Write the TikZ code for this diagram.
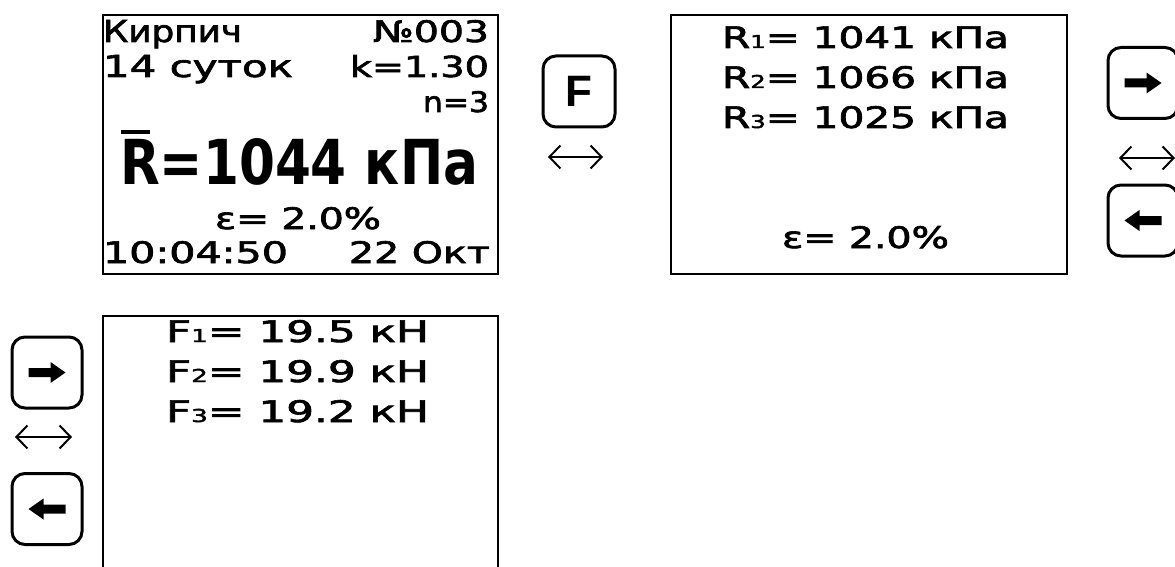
\documentclass[tikz,border=0pt]{standalone}
\usepackage{fontspec}
\usepackage{graphicx}
\usetikzlibrary{arrows.meta}
\newfontfamily\lcdfont{DejaVu Sans}[FakeBold=2]
\newfontfamily\lcdbigfont{DejaVu Sans}
\newfontfamily\keyfont{Liberation Sans}
\newcommand\lcdt[3]{\resizebox{#1}{#2}{\lcdfont #3}}
\newcommand\sbd[1]{\scalebox{0.6}{#1}}
\newcommand\rkarrow[1]{\fill[shift={(#1.center)}] (-18.5,-4.5) -- (3.5,-4.5) -- (3.5,-10.5) -- (18.5,0) -- (3.5,10.5) -- (3.5,4.5) -- (-18.5,4.5) -- cycle;}
\newcommand\lkarrow[1]{\fill[shift={(#1.center)},xscale=-1] (-18.5,-4.5) -- (3.5,-4.5) -- (3.5,-10.5) -- (18.5,0) -- (3.5,10.5) -- (3.5,4.5) -- (-18.5,4.5) -- cycle;}
\tikzset{
  screen/.style={draw, line width=2pt, inner sep=0pt},
  keybox/.style={draw, line width=3pt, rounded corners=13pt, minimum width=70pt, minimum height=71pt, inner sep=0pt},
  lcd/.style={inner sep=0pt, outer sep=0pt},
  dblarr/.style={line width=2pt, {Straight Barb[length=11pt,width=23pt]}-{Straight Barb[length=11pt,width=23pt]}},
}
\begin{document}
\begin{tikzpicture}[x=1pt,y=-1pt]
\clip (0,0) rectangle (1175,567);
\fill[white] (0,0) rectangle (1175,567);

% screens
\node[screen, minimum width=395pt, minimum height=259pt] (s1) at (300.5,144.5) {};
\node[screen, minimum width=396pt, minimum height=259pt] (s2) at (869,144.5) {};
\node[screen, minimum width=395pt, minimum height=300pt] (s3) at (300.5,466) {};

% keys
\node[keybox, minimum width=72pt] (kF) at (579,91.5) {\keyfont\bfseries\fontsize{44}{44}\selectfont F};
\node[keybox] (kR1) at (1143,83) {};
\node[keybox] (kL1) at (1143,220.5) {};
\node[keybox] (kR2) at (47,372.5) {};
\node[keybox] (kL2) at (47,509) {};
\rkarrow{kR1}
\lkarrow{kL1}
\rkarrow{kR2}
\lkarrow{kL2}

% double arrows
\coordinate (aF1) at (548,157);  \coordinate (aF2) at (603,157);
\coordinate (aR1) at (1119,158); \coordinate (aR2) at (1175,158);
\coordinate (aL1) at (15,437);   \coordinate (aL2) at (72,437);
\draw[dblarr] (aF1) -- (aF2);
\draw[dblarr] (aR1) -- (aR2);
\draw[dblarr] (aL1) -- (aL2);

% screen 1
\node[lcd, anchor=base west] (a1) at (103,42) {\lcdt{139pt}{22pt}{Кирпич}};
\node[lcd, anchor=base east] (a2) at (489,42) {\lcdt{116pt}{22pt}{№003}};
\node[lcd, anchor=base west] (a3) at (103,77) {\lcdt{190pt}{22pt}{14 суток}};
\node[lcd, anchor=base east] (a4) at (489,77) {\lcdt{139pt}{22pt}{k=1.30}};
\node[lcd, anchor=base east] (a5) at (489,112) {\lcdt{66pt}{21pt}{n=3}};
\node[lcd, anchor=base west] (a6) at (120,184) {\resizebox{358pt}{46pt}{\lcdbigfont\bfseries R=1044 кПа}};
\fill (121,130) rectangle (150,134);
\node[lcd, anchor=base west] (a7) at (215,229) {\lcdt{166pt}{22pt}{ε= 2.0\%}};
\node[lcd, anchor=base west] (a8) at (103,263) {\lcdt{185pt}{22pt}{10:04:50}};
\node[lcd, anchor=base east] (a9) at (490,263) {\lcdt{141pt}{22pt}{22 Окт}};

% screen 2
\node[lcd, anchor=base west] (b1) at (722,48) {\lcdt{287pt}{22pt}{R\sbd{1}= 1041 кПа}};
\node[lcd, anchor=base west] (b2) at (722,88) {\lcdt{287pt}{22pt}{R\sbd{2}= 1066 кПа}};
\node[lcd, anchor=base west] (b3) at (722,128) {\lcdt{287pt}{22pt}{R\sbd{3}= 1025 кПа}};
\node[lcd, anchor=base west] (b4) at (782,248) {\lcdt{167pt}{22pt}{ε= 2.0\%}};

% screen 3
\node[lcd, anchor=base west] (c1) at (166,342) {\lcdt{263pt}{22pt}{F\sbd{1}= 19.5 кН}};
\node[lcd, anchor=base west] (c2) at (166,382) {\lcdt{263pt}{22pt}{F\sbd{2}= 19.9 кН}};
\node[lcd, anchor=base west] (c3) at (166,422) {\lcdt{263pt}{22pt}{F\sbd{3}= 19.2 кН}};
\end{tikzpicture}
\end{document}
